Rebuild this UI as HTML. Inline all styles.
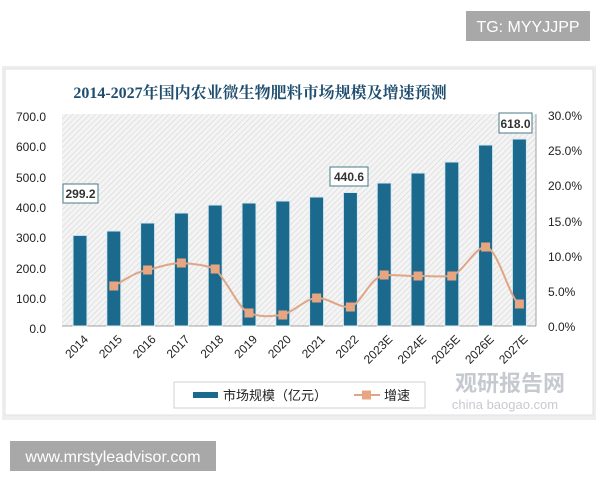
<!DOCTYPE html>
<html><head><meta charset="utf-8"><style>
body{margin:0;background:#fff;width:600px;height:480px;overflow:hidden;font-family:"Liberation Sans","Noto Sans CJK SC",sans-serif}
</style></head><body>
<svg width="600" height="480" xmlns="http://www.w3.org/2000/svg" font-family="Liberation Sans, Noto Sans CJK SC, sans-serif">
<defs>
<pattern id="h" width="4" height="4" patternUnits="userSpaceOnUse" patternTransform="rotate(45)">
<rect width="4" height="4" fill="#f4f4f4"/><line x1="0" y1="0" x2="0" y2="4" stroke="#d6d6d6" stroke-width="1.2"/>
</pattern>
</defs>
<rect x="466" y="11" width="124" height="30" fill="#a8a8a8"/>
<text x="528" y="32" font-size="16" fill="#fff" text-anchor="middle">TG: MYYJJPP</text>
<rect x="2" y="66" width="594" height="354" fill="#eeeeee"/>
<rect x="5" y="69" width="588" height="346" fill="#fff" stroke="#e2e2e2"/>
<text x="260" y="98" font-size="16" font-weight="bold" fill="#1f4e6e" text-anchor="middle" font-family="Liberation Serif, Noto Serif CJK SC, serif">2014-2027年国内农业微生物肥料市场规模及增速预测</text>
<rect x="62" y="114" width="474" height="212" fill="url(#h)"/>
<line x1="62" y1="326" x2="536" y2="326" stroke="#a0a0a0"/>
<line x1="536" y1="114" x2="536" y2="326" stroke="#a0a0a0"/>
<g font-size="12" fill="#222" text-anchor="end">
<text x="46" y="121">700.0</text><text x="46" y="151">600.0</text><text x="46" y="182">500.0</text><text x="46" y="212">400.0</text><text x="46" y="242">300.0</text><text x="46" y="273">200.0</text><text x="46" y="303">100.0</text><text x="46" y="333">0.0</text>
</g>
<g font-size="12" fill="#222">
<text x="548" y="120">30.0%</text><text x="548" y="155">25.0%</text><text x="548" y="190">20.0%</text><text x="548" y="226">15.0%</text><text x="548" y="261">10.0%</text><text x="548" y="296">5.0%</text><text x="548" y="331">0.0%</text>
</g>
<g fill="#1b6a8e" stroke="#d8ecf4" stroke-width="1">
<rect x="73" y="235.4" width="14" height="90.6"/>
<rect x="106.8" y="231" width="14" height="95"/>
<rect x="140.6" y="223" width="14" height="103"/>
<rect x="174.4" y="213" width="14" height="113"/>
<rect x="208.2" y="205" width="14" height="121"/>
<rect x="242" y="203" width="14" height="123"/>
<rect x="275.8" y="201" width="14" height="125"/>
<rect x="309.6" y="197" width="14" height="129"/>
<rect x="343.4" y="192.5" width="14" height="133.5"/>
<rect x="377.2" y="183" width="14" height="143"/>
<rect x="411" y="173" width="14" height="153"/>
<rect x="444.8" y="162" width="14" height="164"/>
<rect x="478.6" y="145" width="14" height="181"/>
<rect x="512.4" y="139" width="14" height="187"/>
</g>
<path d="M113.8,286 C125,280 135,272 147.6,270 C160,267 170,263 181.4,263 C195,264 205,265 215.2,269 C230,285 238,308 249,313 C262,318 272,316 282.8,315 C295,311 305,299 316.6,298 C330,298 338,308 350.4,307 C362,303 370,277 384.2,275 C398,275 405,276 418,276 C432,276 440,277 451.8,276 C465,270 475,247 485.6,247 C498,248 510,300 519.4,304" fill="none" stroke="#e0a585" stroke-width="2"/>
<g fill="#e8a582">
<rect x="109.3" y="281.5" width="9" height="9"/><rect x="143.1" y="265.5" width="9" height="9"/><rect x="176.9" y="258.5" width="9" height="9"/><rect x="210.7" y="264.5" width="9" height="9"/><rect x="244.5" y="308.5" width="9" height="9"/><rect x="278.3" y="310.5" width="9" height="9"/><rect x="312.1" y="293.5" width="9" height="9"/><rect x="345.9" y="302.5" width="9" height="9"/><rect x="379.7" y="270.5" width="9" height="9"/><rect x="413.5" y="271.5" width="9" height="9"/><rect x="447.3" y="271.5" width="9" height="9"/><rect x="481.1" y="242.5" width="9" height="9"/><rect x="514.9" y="299.5" width="9" height="9"/>
</g>
<g font-size="12" font-weight="bold" fill="#333" text-anchor="middle">
<rect x="63" y="184" width="35" height="19" fill="#fff" stroke="#4a7a8a"/><text x="80.5" y="198">299.2</text>
<rect x="330" y="167" width="38" height="19" fill="#fff" stroke="#4a7a8a"/><text x="349" y="181">440.6</text>
<rect x="499" y="113" width="33" height="20" fill="#fff" stroke="#4a7a8a"/><text x="515.5" y="128">618.0</text>
</g>
<g font-size="12" fill="#222" text-anchor="end">
<text transform="translate(89,340) rotate(-45)">2014</text>
<text transform="translate(122.8,340) rotate(-45)">2015</text>
<text transform="translate(156.6,340) rotate(-45)">2016</text>
<text transform="translate(190.4,340) rotate(-45)">2017</text>
<text transform="translate(224.2,340) rotate(-45)">2018</text>
<text transform="translate(258,340) rotate(-45)">2019</text>
<text transform="translate(291.8,340) rotate(-45)">2020</text>
<text transform="translate(325.6,340) rotate(-45)">2021</text>
<text transform="translate(359.4,340) rotate(-45)">2022</text>
<text transform="translate(393.2,340) rotate(-45)">2023E</text>
<text transform="translate(427,340) rotate(-45)">2024E</text>
<text transform="translate(460.8,340) rotate(-45)">2025E</text>
<text transform="translate(494.6,340) rotate(-45)">2026E</text>
<text transform="translate(528.4,340) rotate(-45)">2027E</text>
</g>
<rect x="174" y="382" width="251" height="26" fill="#fff" stroke="#d0d0d0"/>
<rect x="193" y="392" width="25" height="6" fill="#1b6a8e"/>
<text x="223" y="400" font-size="13" fill="#222">市场规模（亿元）</text>
<line x1="354" y1="395" x2="380" y2="395" stroke="#e0a585" stroke-width="2"/>
<rect x="362" y="390.5" width="9" height="9" fill="#e8a582"/>
<text x="384" y="400" font-size="13" fill="#222">增速</text>
<text x="510" y="391" font-size="22" font-weight="bold" fill="#b8bcc4" text-anchor="middle" opacity="0.8">观研报告网</text>
<text x="505" y="409" font-size="13" fill="#b8bcc4" text-anchor="middle" opacity="0.8">china baogao.com</text>
<rect x="10" y="441" width="206" height="30" fill="#a8a8a8"/>
<text x="113" y="462" font-size="16" fill="#fff" text-anchor="middle">www.mrstyleadvisor.com</text>
</svg>
</body></html>
